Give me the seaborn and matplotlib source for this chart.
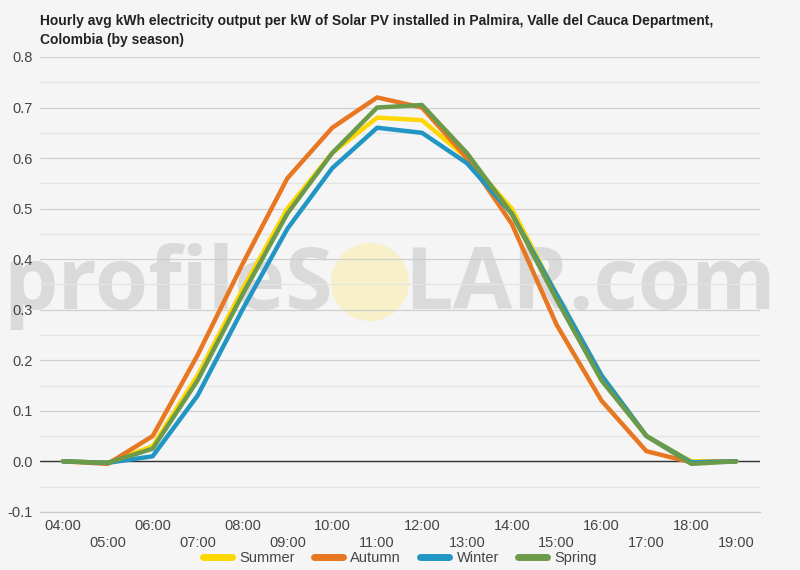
import numpy as np
import pandas as pd
import matplotlib
matplotlib.use("Agg")
import matplotlib.pyplot as plt
import seaborn as sns
from matplotlib.patches import Circle

# data (hourly)
hours = list(range(4, 20))
hour_labels = ["%02d:00" % h for h in hours]

summer = [0.0, -0.003, 0.03, 0.17, 0.34, 0.50, 0.61, 0.68, 0.675, 0.60, 0.50, 0.33, 0.17, 0.05, 0.0, 0.0]
autumn = [0.0, -0.005, 0.05, 0.21, 0.39, 0.56, 0.66, 0.72, 0.70, 0.60, 0.47, 0.27, 0.12, 0.02, -0.002, 0.0]
winter = [0.0, -0.003, 0.01, 0.13, 0.30, 0.46, 0.58, 0.66, 0.65, 0.59, 0.49, 0.33, 0.17, 0.05, -0.002, 0.0]
spring = [0.0, -0.003, 0.025, 0.16, 0.33, 0.49, 0.61, 0.70, 0.705, 0.61, 0.49, 0.32, 0.16, 0.05, -0.005, 0.0]

seasons = ["Summer", "Autumn", "Winter", "Spring"]
colors = ["#FFD700", "#E87722", "#2196C4", "#6C9A4B"]

df = pd.DataFrame({
    "hour": hours * 4,
    "kwh": summer + autumn + winter + spring,
    "season": np.repeat(seasons, len(hours)),
})

sns.set_style("white")
plt.rcParams["font.family"] = ["Liberation Sans", "DejaVu Sans"]

bg = "#f5f5f5"
fig = plt.figure(figsize=(8, 5.7), dpi=100, facecolor=bg)
ax = fig.add_axes([0.05, 0.102, 0.90, 0.798], facecolor=bg)

# watermark
wm = dict(fontsize=62, color="#dadada", va="baseline", ha="left", zorder=0,
          family="Open Sans", fontweight="bold")
fig.text(0.004, 0.458, "profileS", **wm)
fig.text(0.505, 0.458, "LAR.com", **wm)
sun = Circle((3.70, 2.88), 0.39, transform=fig.dpi_scale_trans,
             facecolor="#f8f0c8", edgecolor="none", zorder=0)
fig.add_artist(sun)
ax.set_zorder(1)
ax.patch.set_alpha(0)

sns.lineplot(data=df, x="hour", y="kwh", hue="season", hue_order=seasons,
             palette=colors, linewidth=3.2, ax=ax, legend=False, zorder=3)

ax.set_xlim(3.49, 19.53)
ax.set_ylim(-0.1, 0.8)
yt = np.round(np.arange(-0.1, 0.81, 0.1), 1)
ax.set_yticks(yt)
ax.set_yticks(np.round(np.arange(-0.05, 0.8, 0.1), 2), minor=True)
ax.set_yticklabels(["%.1f" % v for v in yt], fontsize=10.5, color="#444444")
ax.yaxis.grid(True, which="major", color="#cfcfcf", linewidth=0.9)
ax.yaxis.grid(True, which="minor", color="#e4e4e4", linewidth=0.9)
ax.axhline(0, color="#333333", linewidth=1, zorder=2)
ax.set_xticks(hours)
ax.set_xticklabels([lab if i % 2 == 0 else "\n" + lab for i, lab in enumerate(hour_labels)],
                   fontsize=10.5, color="#444444", linespacing=1.3)
ax.tick_params(axis="both", which="both", length=0, pad=5)
for s in ["top", "right", "left"]:
    ax.spines[s].set_visible(False)
ax.spines["bottom"].set_color("#c8c8c8")
ax.set_xlabel("")
ax.set_ylabel("")

fig.text(0.05, 0.975, "Hourly avg kWh electricity output per kW of Solar PV installed in Palmira, Valle del Cauca Department,\nColombia (by season)",
         fontsize=10, fontweight="bold", color="#222222", va="top", ha="left", linespacing=1.4)

handles = [plt.Line2D([0], [0], color=c, linewidth=5) for c in colors]
fig.legend(handles, seasons, loc="center", bbox_to_anchor=(0.5, 0.021), ncol=4, frameon=False,
           fontsize=10.5, handlelength=2.0, columnspacing=1.3, handletextpad=0.5,
           labelcolor="#444444")

fig.savefig("out.png", dpi=100, facecolor=bg)
